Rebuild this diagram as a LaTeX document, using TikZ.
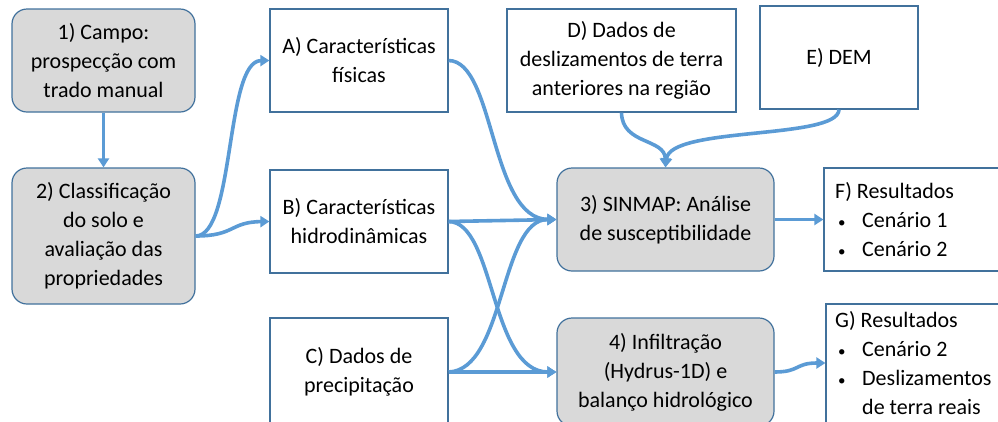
\documentclass[tikz,border=0pt]{standalone}
\usepackage{fontspec}
\setmainfont{Carlito}
\usetikzlibrary{arrows.meta}
\definecolor{edgeblue}{HTML}{41719C}
\definecolor{arrowblue}{HTML}{5B9BD5}
\definecolor{boxgray}{HTML}{D9D9D9}
\tikzset{
  boxbase/.style={draw=edgeblue, line width=1.2pt, align=center, inner sep=0pt, font=\fontsize{22}{29}\selectfont},
  graybox/.style={boxbase, fill=boxgray, rounded corners=15pt},
  whitebox/.style={boxbase, fill=white},
  restext/.style={anchor=north west, align=left, inner sep=0pt, font=\fontsize{22}{29}\selectfont},
  flow/.style={draw=arrowblue, line width=3.6pt, -{Triangle[length=9pt,width=11pt]}},
}
\newcommand{\bul}{\hspace{3pt}\makebox[24pt][l]{\fontsize{15}{15}\selectfont •}}
\begin{document}
\begin{tikzpicture}[x=1pt,y=-1pt]
\useasboundingbox (0,0) rectangle (998,421);
% gray process boxes
\node[graybox, minimum width=183pt, minimum height=103pt] (n1) at (103.5,60.5) {1) Campo:\\prospecção com\\trado manual};
\node[graybox, minimum width=183pt, minimum height=136pt] (n2) at (103.5,236) {2) Classificação\\do solo e\\avaliação das\\propriedades};
\node[graybox, minimum width=217pt, minimum height=103pt] (n3) at (665.5,219.5) {3) SINMAP: Análise\\de susceptibilidade};
\node[graybox, minimum width=217pt, minimum height=108pt] (n4) at (665.5,372) {4) Infiltração\\(Hydrus-1D) e\\balanço hidrológico};
% white data boxes
\node[whitebox, minimum width=178pt, minimum height=103pt] (nA) at (359,60.5) {A) Características\\físicas};
\node[whitebox, minimum width=178pt, minimum height=103pt] (nB) at (359,221.5) {B) Características\\hidrodinâmicas};
\node[whitebox, minimum width=178pt, minimum height=108pt] (nC) at (359,372) {C) Dados de\\precipitação};
\node[whitebox, minimum width=229pt, minimum height=103pt] (nD) at (621.5,60.5) {D) Dados de\\deslizamentos de terra\\anteriores na região};
\node[whitebox, minimum width=158pt, minimum height=103pt] (nE) at (839,57.5) {E) DEM};
% result boxes
\node[whitebox, minimum width=186pt, minimum height=103pt] (nF) at (917,219.5) {};
\node[whitebox, minimum width=184pt, minimum height=136pt] (nG) at (918,372) {};
\node[restext] (tF) at (835,182) {F) Resultados\\\bul Cenário 1\\\bul Cenário 2};
\node[restext] (tG) at (835,311) {G) Resultados\\\bul Cenário 2\\\bul Deslizamentos\\\hspace{27pt}de terra reais};
% connectors
\draw[flow] (n1.south) -- (n2.north);
\draw[flow] (n2.east) .. controls (235,236) and (225,61) .. (nA.west);
\draw[flow] (n2.east) .. controls (235,236) and (230,222) .. (nB.west);
\draw[flow] (nA.east) .. controls (495,61) and (490,219) .. (n3.west);
\draw[flow] (nB.east) -- (n3.west);
\draw[flow] (nB.east) .. controls (495,222) and (490,372) .. (n4.west);
\draw[flow] (nC.east) .. controls (505,370) and (500,219) .. (n3.west);
\draw[flow] (nC.east) -- (n4.west);
\draw[flow] (nD.south) .. controls (622,145) and (665,138) .. (n3.north);
\draw[flow] (nE.south) .. controls (838,140) and (670,126) .. (n3.north);
\draw[flow] (n3.east) -- (nF.west);
\draw[flow] (n4.east) .. controls (800,372) and (795,363) .. ([yshift=9pt]nG.west);
\end{tikzpicture}
\end{document}
